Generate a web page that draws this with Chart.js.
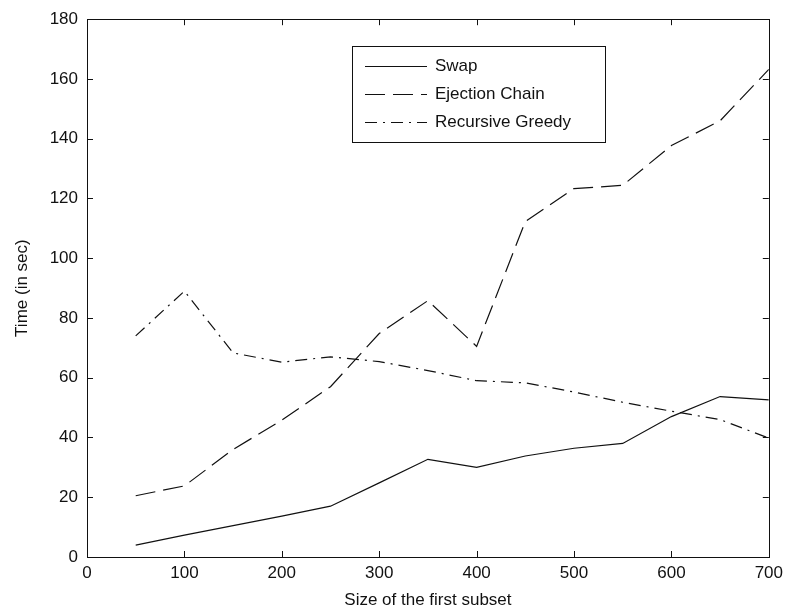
<!DOCTYPE html>
<html>
<head>
<meta charset="utf-8">
<script src="https://cdn.jsdelivr.net/npm/chart.js@4"></script>
<style>
  html, body { margin: 0; padding: 0; background: #fff; }
  #wrap { width: 789px; height: 615px; }
</style>
</head>
<body>
<div id="wrap"><canvas id="timeChart" width="789" height="615"></canvas></div>
<script>
// subset sizes on the x axis
var subsetSizes = [50, 100, 150, 200, 250, 300, 350, 400, 450, 500, 550, 600, 650, 700];

// running time (sec) per method
var swapTimes = [4, 7.3, 10.5, 13.7, 17, 24.8, 32.7, 30, 33.8, 36.4, 38, 47, 53.7, 52.6];
var ejectionTimes = [20.5, 23.8, 36, 45.8, 57, 74.8, 85.8, 70.5, 112.3, 123.3, 124.4, 137.7, 146, 163.2];
var greedyTimes = [74, 89, 68.3, 65.2, 67, 65.4, 62.4, 59, 58.3, 55.2, 51.8, 48.8, 46, 39.8];

var seriesNames = ['Swap', 'Ejection Chain', 'Recursive Greedy'];
var seriesDash = [[], [20, 8], [12, 6, 2, 6]];

var xTicks = [0, 100, 200, 300, 400, 500, 600, 700];
var yTicks = [0, 20, 40, 60, 80, 100, 120, 140, 160, 180];

var FONT = 'Liberation Sans, Arial, sans-serif';
var INK = '#111';

function toPoints(vals) {
    return vals.map(function (v, i) { return { x: subsetSizes[i], y: v }; });
}

// box around plot + inward ticks on all four sides (matlab look)
var boxTicks = {
    id: 'boxTicks',
    afterDatasetsDraw: function (chart) {
        var c = chart.ctx, a = chart.chartArea;
        var xs = chart.scales.x, ys = chart.scales.y;
        var len = 6;
        c.save();
        c.strokeStyle = INK;
        c.lineWidth = 1;
        c.strokeRect(Math.round(a.left) + 0.5, Math.round(a.top) + 0.5,
            Math.round(a.right - a.left), Math.round(a.bottom - a.top));
        c.beginPath();
        xTicks.forEach(function (t) {
            var px = Math.round(xs.getPixelForValue(t)) + 0.5;
            c.moveTo(px, a.bottom); c.lineTo(px, a.bottom - len);
            c.moveTo(px, a.top); c.lineTo(px, a.top + len);
        });
        yTicks.forEach(function (t) {
            var py = Math.round(ys.getPixelForValue(t)) + 0.5;
            c.moveTo(a.left, py); c.lineTo(a.left + len, py);
            c.moveTo(a.right, py); c.lineTo(a.right - len, py);
        });
        c.stroke();
        c.restore();
    }
};

// legend box inside the axes
var boxLegend = {
    id: 'boxLegend',
    afterDraw: function (chart) {
        var c = chart.ctx;
        var left = 352, top = 46, w = 253, h = 96;
        c.save();
        c.fillStyle = '#fff';
        c.fillRect(left, top, w, h);
        c.strokeStyle = INK;
        c.lineWidth = 1;
        c.strokeRect(left + 0.5, top + 0.5, w, h);
        c.font = '17px ' + FONT;
        c.textBaseline = 'middle';
        c.fillStyle = INK;
        chart.data.datasets.forEach(function (ds, i) {
            var y = Math.round(top + 20 + i * 28) + 0.5;
            c.setLineDash(ds.borderDash);
            c.beginPath();
            c.moveTo(365, y); c.lineTo(427, y);
            c.stroke();
            c.setLineDash([]);
            c.fillText(ds.label, 435, y);
        });
        c.restore();
    }
};

var ctx = document.getElementById('timeChart').getContext('2d');

var timeChart = new Chart(ctx, {
    type: 'line',
    data: {
        datasets: [swapTimes, ejectionTimes, greedyTimes].map(function (vals, i) {
            return {
                label: seriesNames[i],
                data: toPoints(vals),
                borderColor: INK,
                borderWidth: 1.2,
                borderDash: seriesDash[i],
                pointRadius: 0,
                tension: 0,
                fill: false
            };
        })
    },
    options: {
        responsive: false,
        animation: false,
        layout: { padding: { top: 18, right: 19, left: 0, bottom: 0 } },
        plugins: {
            legend: { display: false },
            tooltip: { enabled: false }
        },
        scales: {
            x: {
                type: 'linear',
                min: 0,
                max: 700,
                afterBuildTicks: function (s) { s.ticks = xTicks.map(function (v) { return { value: v }; }); },
                afterFit: function (s) { s.height = 58; },
                grid: { display: false, drawTicks: false },
                border: { display: false },
                ticks: { color: INK, font: { family: FONT, size: 17 }, padding: 6, maxRotation: 0 },
                title: {
                    display: true,
                    text: 'Size of the first subset',
                    color: INK,
                    font: { family: FONT, size: 17 },
                    padding: { top: 0, bottom: 4 }
                }
            },
            y: {
                min: 0,
                max: 180,
                afterBuildTicks: function (s) { s.ticks = yTicks.map(function (v) { return { value: v }; }); },
                afterFit: function (s) { s.width = 87; },
                grid: { display: false, drawTicks: false },
                border: { display: false },
                ticks: { color: INK, font: { family: FONT, size: 17 }, padding: 9 },
                title: {
                    display: true,
                    text: 'Time (in sec)',
                    color: INK,
                    font: { family: FONT, size: 17 },
                    padding: { top: 12, bottom: 0 }
                }
            }
        }
    },
    plugins: [boxTicks, boxLegend]
});
</script>
</body>
</html>
